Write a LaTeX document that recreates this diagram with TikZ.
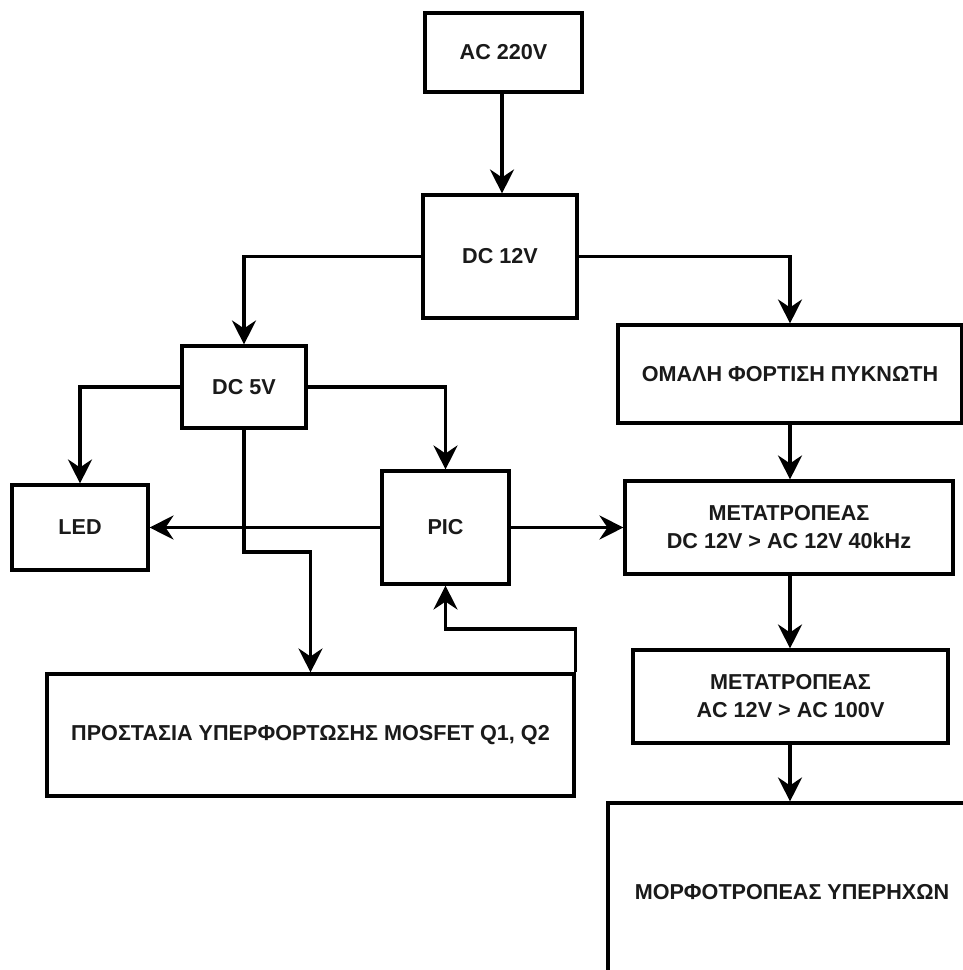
\documentclass[tikz,border=0pt]{standalone}
\usepackage{fontspec}
\setmainfont{Liberation Sans}
\usetikzlibrary{arrows.meta}
\definecolor{txt}{HTML}{1A1A1A}
\tikzset{
  blk/.style={draw=black, line width=3.1pt, rectangle, inner sep=0pt, align=center,
    text=txt, font=\bfseries\fontsize{21.6}{28}\selectfont, fill=white},
  conn/.style={draw=black, line width=3.1pt, -{Stealth[length=24pt,width=24pt,inset=8pt]}},
  wire/.style={draw=black, line width=3.1pt}
}
\begin{document}
\begin{tikzpicture}[x=1pt,y=1pt]
\useasboundingbox (0,0) rectangle (963,-970);
\fill[white] (0,0) rectangle (963,-970);
\begin{scope}
\clip (0,0) rectangle (963,-970);
\node[blk, minimum width=157pt, minimum height=79pt] (ac) at (503.5,-52.5) {AC 220V};
\node[blk, minimum width=154pt, minimum height=123pt] (dc12) at (500,-256.5) {DC 12V};
\node[blk, minimum width=124pt, minimum height=82pt] (dc5) at (244,-387) {DC 5V};
\node[blk, minimum width=344pt, minimum height=98pt] (omali) at (790,-374) {ΟΜΑΛΗ ΦΟΡΤΙΣΗ ΠΥΚΝΩΤΗ};
\node[blk, minimum width=136pt, minimum height=85pt] (led) at (80,-527.5) {LED};
\node[blk, minimum width=127pt, minimum height=113pt] (pic) at (445.5,-527.5) {PIC};
\node[blk, minimum width=328pt, minimum height=93pt] (met1) at (789,-527.5) {ΜΕΤΑΤΡΟΠΕΑΣ\\DC 12V > AC 12V 40kHz};
\node[blk, minimum width=315pt, minimum height=93pt] (met2) at (790.5,-696.5) {ΜΕΤΑΤΡΟΠΕΑΣ\\AC 12V > AC 100V};
\node[blk, minimum width=527pt, minimum height=122pt] (prot) at (310.5,-735) {ΠΡΟΣΤΑΣΙΑ ΥΠΕΡΦΟΡΤΩΣΗΣ MOSFET Q1, Q2};
\node[blk, minimum width=368pt, minimum height=178pt] (morph) at (792,-892) {ΜΟΡΦΟΤΡΟΠΕΑΣ ΥΠΕΡΗΧΩΝ};
\coordinate (jog) at (0,-552);
\coordinate (fb) at (0,-629);
\coordinate (xa) at (502,0);
\coordinate (xb) at (790,0);

\draw[conn] (ac.south -| xa) -- (dc12.north -| xa);
\draw[conn] (dc12.west) -| (dc5.north);
\draw[conn] (dc12.east) -| (omali.north);
\draw[conn] (dc5.west) -| (led.north);
\draw[conn] (dc5.east) -| (pic.north);
\draw[conn] (dc5.south) |- (prot.north |- jog) -- (prot.north);
\draw[conn] (pic.west) -- (led.east);
\draw[conn] (pic.east) -- (met1.west);
\draw[conn] (omali.south -| xb) -- (met1.north -| xb);
\draw[conn] (met1.south -| xb) -- (met2.north -| xb);
\draw[conn] (met2.south -| xb) -- (morph.north -| xb);
\draw[conn] (prot.north east) |- (pic.south |- fb) -- (pic.south);
\end{scope}
\end{tikzpicture}
\end{document}
